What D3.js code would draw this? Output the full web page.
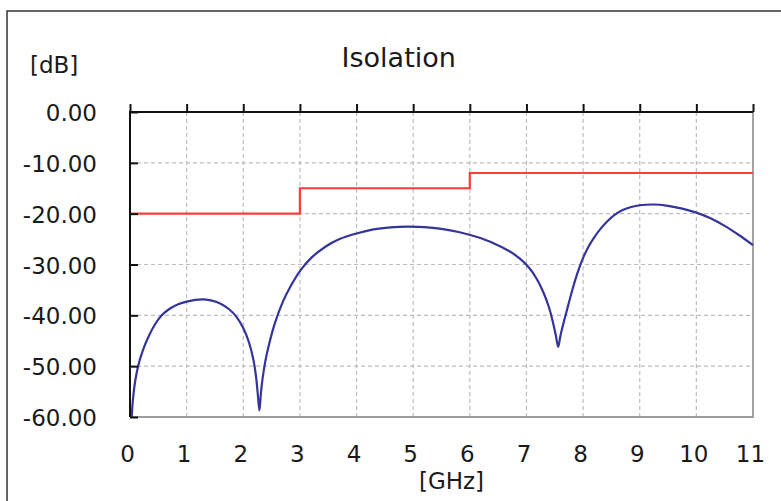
<!DOCTYPE html>
<html>
<head>
<meta charset="utf-8">
<script src="https://cdn.jsdelivr.net/npm/d3@7"></script>
<style>
html,body{margin:0;padding:0;background:#fff;}
svg{display:block;}
text{font-family:"DejaVu Sans",Verdana,sans-serif;fill:#1a1a1a;}
</style>
</head>
<body>
<svg id="chart" width="781" height="501"></svg>
<script>
// ---- data ----
const title = "Isolation";
const yUnit = "[dB]";
const xUnit = "[GHz]";
const xTicks = [0,1,2,3,4,5,6,7,8,9,10,11];
const yTicks = [0,-10,-20,-30,-40,-50,-60];
const yTickLabels = ["0.00","-10.00","-20.00","-30.00","-40.00","-50.00","-60.00"];

// specification limit (step)
const specFreq = [0, 3, 6, 11];
const specDb   = [-20, -15, -12, -12];

// measured isolation
const isoFreq = [0.03,0.05,0.08,0.12,0.17,0.24,0.33,0.44,0.56,0.7,0.85,1.0,1.15,1.3,1.45,1.6,1.75,1.88,
  2.0,2.1,2.18,2.23,2.26,2.285,2.31,2.34,2.39,2.46,2.56,2.7,2.85,3.0,3.2,3.45,3.7,4.0,4.3,4.6,4.9,
  5.2,5.5,5.8,6.1,6.4,6.7,6.9,7.05,7.18,7.3,7.4,7.47,7.52,7.56,7.6,7.65,7.7,7.8,7.9,8.0,
  8.1,8.2,8.3,8.42,8.55,8.7,8.85,9.0,9.24,9.5,9.75,10.0,10.25,10.5,10.75,11.0];
const isoDb = [-60,-56.8,-53.8,-51.2,-48.9,-46.5,-44.1,-41.8,-40.0,-38.7,-37.8,-37.3,-36.95,-36.85,-37.1,-37.7,-38.8,-40.3,
  -42.5,-45.3,-48.8,-52.5,-56,-58.7,-55.5,-52.5,-49,-45.5,-41.5,-37.3,-34,-31.3,-28.7,-26.5,-25,-23.9,-23.1,-22.7,-22.55,
  -22.65,-23.0,-23.6,-24.5,-25.7,-27.4,-29.0,-30.7,-32.8,-35.5,-38.5,-41.5,-44,-46.2,-44.0,-41.7,-39.6,-35.4,-31.7,-28.7,
  -26.4,-24.6,-23.1,-21.6,-20.3,-19.3,-18.7,-18.35,-18.2,-18.45,-19.0,-19.8,-20.9,-22.4,-24.2,-26.2];

// ---- layout ----
const svg = d3.select("#chart");
const L = 130, R = 753, T = 112, B = 417;
const x = d3.scaleLinear().domain([0, 11]).range([L, R]);
const y = d3.scaleLinear().domain([-60, 0]).range([B, T]);

// outer frame (top and left)
svg.append("path").attr("d", `M7,501 V11 H781`).attr("fill","none")
  .attr("stroke","#333").attr("stroke-width",1.5);

// grid
const grid = svg.append("g").attr("stroke","#bdbdbd").attr("stroke-width",1.2)
  .attr("stroke-dasharray","4,3");
grid.selectAll("line.v").data(xTicks.filter(d => d > 0 && d < 11)).enter().append("line")
  .attr("x1", d => x(d)).attr("x2", d => x(d)).attr("y1", T).attr("y2", B);
grid.selectAll("line.h").data(yTicks.filter(d => d < 0 && d > -60)).enter().append("line")
  .attr("y1", d => y(d)).attr("y2", d => y(d)).attr("x1", L).attr("x2", R);

// right & bottom borders (grey)
svg.append("path").attr("d", `M${L},${B} H${R} V${T}`).attr("fill","none")
  .attr("stroke","#9a9a9a").attr("stroke-width",1.8);

// series
const specLine = d3.line().x(d => x(d[0])).y(d => y(d[1])).curve(d3.curveStepAfter);
svg.append("path").datum(d3.zip(specFreq, specDb)).attr("d", specLine)
  .attr("fill","none").attr("stroke","#ff3b3b").attr("stroke-width",2.2);

const isoLine = d3.line().x(d => x(d[0])).y(d => y(d[1])).curve(d3.curveCatmullRom.alpha(0.5));
svg.append("path").datum(d3.zip(isoFreq, isoDb)).attr("d", isoLine)
  .attr("fill","none").attr("stroke","#34349a").attr("stroke-width",2.2);

// top axis with ticks upward
const topAxis = svg.append("g").attr("transform", `translate(0,${T})`)
  .call(d3.axisTop(x).tickValues(xTicks).tickSize(8).tickFormat("").tickSizeOuter(0));
topAxis.select(".domain").remove();
topAxis.selectAll("line").attr("stroke","#111").attr("stroke-width",2);

// left axis ticks inward
const leftAxis = svg.append("g").attr("transform", `translate(${L},0)`)
  .call(d3.axisRight(y).tickValues(yTicks).tickSize(8).tickFormat("").tickSizeOuter(0));
leftAxis.select(".domain").remove();
leftAxis.selectAll("line").attr("stroke","#111").attr("stroke-width",2);

// top and left black axis lines
svg.append("path").attr("d", `M${L},${B} V${T} H${R}`).attr("fill","none")
  .attr("stroke","#111").attr("stroke-width",2);

// y tick labels
const yLab = svg.append("g").attr("transform", `translate(97,0)`)
  .call(d3.axisLeft(y).tickValues(yTicks).tickSize(0)
    .tickFormat(d => yTickLabels[yTicks.indexOf(d)]));
yLab.select(".domain").remove();
yLab.selectAll("text").attr("x",0).attr("dy",null)
  .attr("y", 8.5).attr("text-anchor","end")
  .style("font-size","23px").style("font-family","'DejaVu Sans',sans-serif").attr("fill","#1a1a1a");

// x tick labels
const xLab = svg.append("g").attr("transform", `translate(-3,461.5)`)
  .call(d3.axisBottom(x).tickValues(xTicks).tickSize(0).tickFormat(d3.format("d")));
xLab.select(".domain").remove();
xLab.selectAll("text").attr("y",0).attr("dy",null).attr("text-anchor","middle")
  .style("font-size","23px").style("font-family","'DejaVu Sans',sans-serif").attr("fill","#1a1a1a");

// titles
svg.append("text").attr("x", 398.7).attr("y", 66.5).attr("text-anchor","middle")
  .style("font-size","27px").text(title);
svg.append("text").attr("x", 30).attr("y", 72.5).attr("text-anchor","start")
  .style("font-size","23px").text(yUnit);
svg.append("text").attr("x", 451.5).attr("y", 489).attr("text-anchor","middle")
  .style("font-size","23px").text(xUnit);
</script>
</body>
</html>
